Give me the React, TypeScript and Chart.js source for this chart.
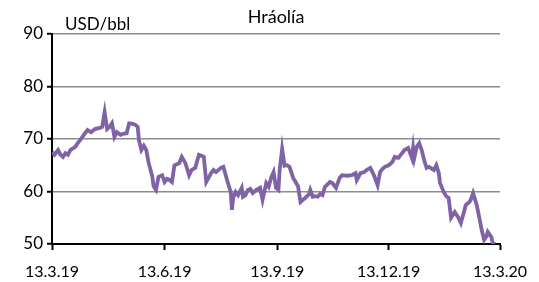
import React, { useEffect, useRef } from "react";
import { Chart, registerables } from "chart.js";

Chart.register(...registerables);

// Days since 13.3.19
const days = [0,2,5,7,9,11,13,15,19,21,23,27,29,32,35,39,41,43,45,47,49,51,53,56,58,61,63,66,68,70,71,73,75,77,79,82,83,85,87,90,92,94,96,98,100,102,104,106,109,112,114,117,120,122,124,126,130,132,134,138,140,143,146,147,148,150,152,155,156,158,160,162,164,167,170,172,175,177,179,181,183,185,186,188,190,192,194,197,199,201,203,205,207,210,211,213,215,217,219,221,223,227,229,232,235,237,241,245,248,249,252,255,257,260,263,266,268,270,272,275,278,280,283,286,288,291,294,295,296,298,300,302,304,306,308,312,314,316,317,320,322,324,326,329,332,334,337,338,341,342,344,347,349,351,353,355,356,359,360,362];

// Brent oil price, USD/bbl
const prices = [67.5,67.0,67.9,67.0,66.6,67.3,67.0,67.9,68.5,69.2,69.8,71.1,71.7,71.3,71.9,72.1,72.3,75.1,71.9,72.3,73.0,70.4,71.3,70.8,71.0,71.1,73.0,72.9,72.7,72.3,69.8,67.9,68.7,67.9,65.4,62.8,61.0,60.3,62.8,63.1,61.8,62.4,62.2,61.8,65.0,65.2,65.4,66.6,65.4,63.1,64.1,64.5,67.0,66.8,66.6,61.8,63.5,64.1,63.7,64.5,64.7,62.2,59.9,56.5,58.8,59.9,59.3,60.7,59.0,59.3,60.3,60.5,59.7,60.3,60.7,58.4,61.6,60.9,62.6,63.7,60.7,60.3,64.1,68.1,64.9,65.0,64.7,62.6,61.8,61.0,58.0,58.4,58.8,59.5,60.3,59.0,59.1,59.0,59.5,59.3,60.9,61.8,61.6,60.7,62.6,63.1,63.0,63.1,63.5,62.2,63.5,63.7,64.1,64.5,63.1,61.2,63.7,64.3,64.7,65.0,65.6,66.6,66.4,67.3,67.9,68.3,66.4,68.3,66.4,68.5,69.2,67.9,66.0,64.5,64.7,64.1,65.0,63.5,61.6,59.9,59.1,58.8,55.0,56.1,55.0,54.0,56.5,57.4,58.0,58.4,59.7,57.4,55.1,52.7,50.8,51.5,52.3,51.3,50.2,50.0];

const tickDays = [0, 92, 184, 275, 366];
const tickLabels = ["13.3.19", "13.6.19", "13.9.19", "13.12.19", "13.3.20"];
const yTicks = [50, 60, 70, 80, 90];

const titleText = "Hráolía";
const unitText = "USD/bbl";

const FONT = "Lato, 'Liberation Sans', sans-serif";

export default function App() {
  const ref = useRef<HTMLCanvasElement | null>(null);

  useEffect(() => {
    document.body.style.margin = "0";
    const canvas = ref.current;
    if (!canvas) return;

    const textPlugin = {
      id: "textPlugin",
      afterDraw(chart: any) {
        const { ctx, chartArea } = chart;
        ctx.save();
        ctx.fillStyle = "#000";
        ctx.font = `18px ${FONT}`;
        ctx.textAlign = "center";
        ctx.textBaseline = "alphabetic";
        ctx.fillText(titleText, (chartArea.left + chartArea.right) / 2, 23);
        ctx.font = `17px ${FONT}`;
        ctx.textAlign = "left";
        ctx.fillText(unitText, chartArea.left + 13, 30);
        ctx.restore();
      },
    };

    const chart = new Chart(canvas, {
      type: "line",
      data: {
        datasets: [
          {
            data: days.map((d, i) => ({ x: d, y: prices[i] })),
            borderColor: "#7F63A6",
            borderWidth: 3.8,
            pointRadius: 0,
            tension: 0,
            fill: false,
          },
        ],
      },
      options: {
        animation: false,
        responsive: false,
        devicePixelRatio: 1,
        layout: { padding: { left: 0, right: 35, top: 34, bottom: 0 } },
        plugins: {
          legend: { display: false },
          title: { display: false },
          tooltip: { enabled: false },
        },
        scales: {
          x: {
            type: "linear",
            min: 0,
            max: 366,
            afterBuildTicks: (scale: any) => {
              scale.ticks = tickDays.map((v) => ({ value: v }));
            },
            afterFit: (scale: any) => {
              scale.height = 38;
            },
            ticks: {
              autoSkip: false,
              maxRotation: 0,
              padding: 12,
              color: "#000",
              font: { family: FONT, size: 16 },
              callback: (_v: any, i: number) => tickLabels[i],
            },
            grid: {
              drawOnChartArea: false,
              drawTicks: true,
              tickLength: 6,
              tickColor: "#000",
              tickWidth: 2,
            },
            border: { display: true, color: "#000", width: 2 },
          },
          y: {
            type: "linear",
            min: 50,
            max: 90,
            afterBuildTicks: (scale: any) => {
              scale.ticks = yTicks.map((v) => ({ value: v }));
            },
            afterFit: (scale: any) => {
              scale.width = 52;
            },
            ticks: {
              padding: 4,
              color: "#000",
              font: { family: FONT, size: 17 },
            },
            grid: {
              color: "#8c8c8c",
              lineWidth: 1.5,
              tickLength: 5,
              tickColor: "#000",
              tickWidth: 2,
            },
            border: { display: true, color: "#000", width: 2 },
          },
        },
      },
      plugins: [textPlugin],
    });

    return () => chart.destroy();
  }, []);

  return (
    <div style={{ width: 539, height: 282 }}>
      <canvas ref={ref} width={539} height={282} />
    </div>
  );
}
